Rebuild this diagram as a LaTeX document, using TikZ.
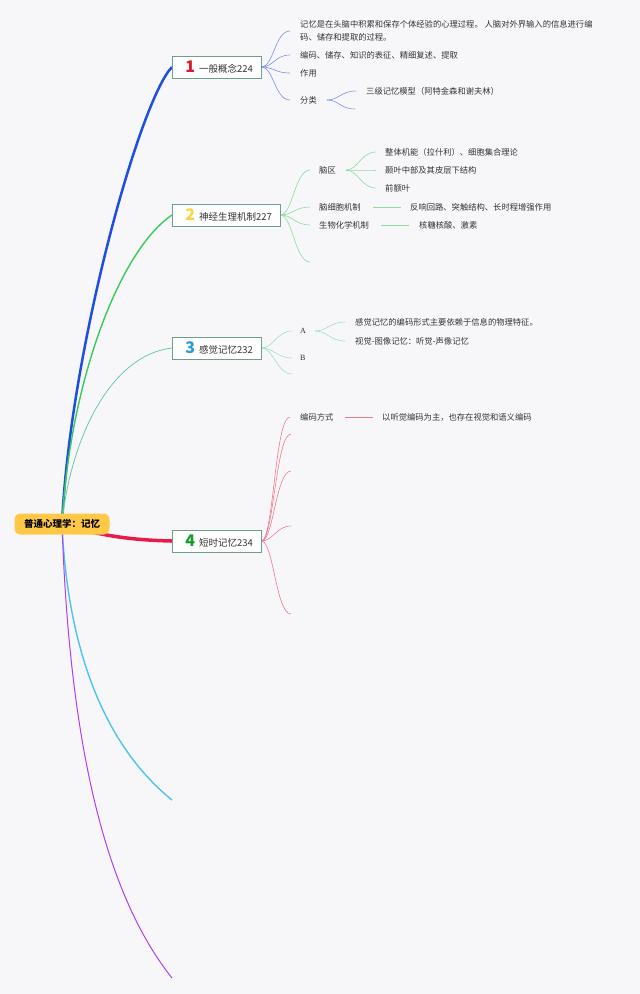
\documentclass[tikz,border=0pt]{standalone}
\usepackage{fontspec}
\setmainfont{Noto Sans CJK SC}
\newfontfamily\serifA{Liberation Serif}
\definecolor{bgc}{HTML}{F7F7F9}
\definecolor{textc}{HTML}{333333}
\definecolor{boxc}{HTML}{6E9E8C}
\definecolor{rootc}{HTML}{FFC947}
\definecolor{bluem}{HTML}{1F4FE0}
\definecolor{blues}{HTML}{7E8FEA}
\definecolor{greenm}{HTML}{3CC85A}
\definecolor{greens}{HTML}{8EDC9E}
\definecolor{tealm}{HTML}{6CC9A6}
\definecolor{teals}{HTML}{9FE0C8}
\definecolor{redm}{HTML}{E8194B}
\definecolor{reds}{HTML}{F07A90}
\definecolor{cyanm}{HTML}{4CC4F0}
\definecolor{purplem}{HTML}{B03EF0}
\definecolor{n1}{HTML}{E0182D}
\definecolor{n2}{HTML}{F5D442}
\definecolor{n3}{HTML}{2A9AD8}
\definecolor{n4}{HTML}{1A9A2A}
\pgfdeclarelayer{bgfill}
\pgfdeclarelayer{links}
\pgfsetlayers{bgfill,links,main}
\tikzset{
  txt/.style={anchor=west, inner sep=0pt, text=textc, font=\fontsize{8.3}{13}\selectfont},
  topic/.style={anchor=west, draw=boxc, line width=0.9pt, fill=white, inner xsep=8pt, inner ysep=0pt, minimum height=22pt, text=textc, font=\fontsize{9.5}{10}\selectfont},
  rootbox/.style={fill=rootc, rounded corners=6pt, minimum width=95pt, minimum height=21pt, inner sep=0pt, text=black, font=\fontsize{9.5}{10}\selectfont\bfseries},
  subline/.style={line width=0.6pt},
}
\newcommand\numb[2]{\hspace{5pt}{\color{#1}\fontsize{16}{16}\selectfont\bfseries #2}\hspace{4pt}}
\newcommand\brc[3]{\draw[subline,#1] (#2) .. controls +(12,0) and +(-15,0) .. (#3);}
\begin{document}
\begin{tikzpicture}[x=1pt,y=-1pt]
\begin{pgfonlayer}{bgfill}
\fill[bgc] (0,0) rectangle (640,994);
\end{pgfonlayer}
\useasboundingbox (0,0) rectangle (640,994);

% root and topics
\node[rootbox] (root) at (62,524) {普通心理学：记忆};
\node[topic] (t1) at (172,67) {\numb{n1}{1}一般概念224};
\node[topic] (t2) at (172,215) {\numb{n2}{2}神经生理机制227};
\node[topic] (t3) at (172,348) {\numb{n3}{3}感觉记忆232};
\node[topic] (t4) at (172,541) {\numb{n4}{4}短时记忆234};
\coordinate (t5) at (172,800);
\coordinate (t6) at (172,978);

% branch 1 items
\node[txt, align=left] (a1) at (300,31) {记忆是在头脑中积累和保存个体经验的心理过程。 人脑对外界输入的信息进行编\\码、储存和提取的过程。};
\node[txt] (a2) at (300,55) {编码、储存、知识的表征、精细复述、提取};
\node[txt] (a3) at (300,73) {作用};
\node[txt] (a4) at (300,100) {分类};
\node[txt] (a41) at (366,91) {三级记忆模型（阿特金森和谢夫林）};
\coordinate (a42) at (355,109);

% branch 2 items
\node[txt] (b1) at (319,170) {脑区};
\node[txt] (b11) at (385,152) {整体机能（拉什利）、细胞集合理论};
\node[txt] (b12) at (385,170) {颞叶中部及其皮层下结构};
\node[txt] (b13) at (385,188) {前额叶};
\node[txt] (b2) at (319,207) {脑细胞机制};
\node[txt] (b21) at (410,207) {反响回路、突触结构、长时程增强作用};
\node[txt] (b3) at (319,225) {生物化学机制};
\node[txt] (b31) at (419,225) {核糖核酸、激素};
\coordinate (b4) at (310,262);

% branch 3 items
\node[txt, font=\serifA\fontsize{8}{10}\selectfont] (c1) at (300,331) {A};
\node[txt] (c11) at (355,322) {感觉记忆的编码形式主要依赖于信息的物理特征。};
\node[txt] (c12) at (355,341) {视觉-图像记忆：听觉-声像记忆};
\node[txt, font=\serifA\fontsize{8}{10}\selectfont] (c2) at (300,358) {B};
\coordinate (c3) at (292,374);

% branch 4 items
\node[txt] (d1) at (300,417) {编码方式};
\node[txt] (d11) at (382,417) {以听觉编码为主，也存在视觉和语义编码};
\coordinate (d2) at (291,434);
\coordinate (d3) at (291,471);
\coordinate (d4) at (291,526);
\coordinate (d5) at (291,614);

\begin{pgfonlayer}{links}
% main connectors
\draw[bluem, line width=2.5pt] (root.center) .. controls (70,350) and (140,100) .. (t1.west);
\draw[greenm, line width=1.4pt] (root.center) .. controls (70,380) and (120,250) .. (t2.west);
\draw[tealm, line width=0.8pt] (root.center) .. controls (70,440) and (110,355) .. (t3.west);
\draw[redm, line width=3.5pt] (root.center) .. controls (95,534) and (125,540) .. (t4.west);
\draw[cyanm, line width=1.4pt] (root.center) .. controls (68,660) and (110,750) .. (t5);
\draw[purplem, line width=1pt] (root.center) .. controls (70,760) and (110,900) .. (t6);

% branch 1
\brc{blues}{t1.east}{[xshift=-10pt]a1.west}
\brc{blues}{t1.east}{[xshift=-10pt]a2.west}
\brc{blues}{t1.east}{[xshift=-10pt]a3.west}
\brc{blues}{t1.east}{[xshift=-10pt]a4.west}
\brc{blues}{[xshift=10pt]a4.east}{[xshift=-10pt]a41.west}
\brc{blues}{[xshift=10pt]a4.east}{a42}

% branch 2
\brc{greens}{t2.east}{[xshift=-9pt]b1.west}
\brc{greens}{t2.east}{[xshift=-9pt]b2.west}
\brc{greens}{t2.east}{[xshift=-9pt]b3.west}
\brc{greens}{t2.east}{b4}
\brc{greens}{[xshift=10pt]b1.east}{[xshift=-9pt]b11.west}
\brc{greens}{[xshift=10pt]b1.east}{[xshift=-9pt]b12.west}
\brc{greens}{[xshift=10pt]b1.east}{[xshift=-9pt]b13.west}
\draw[subline, greens] ([xshift=12pt]b2.east) -- ([xshift=-9pt]b21.west);
\draw[subline, greens] ([xshift=12pt]b3.east) -- ([xshift=-10pt]b31.west);

% branch 3
\brc{teals}{t3.east}{[xshift=-8pt]c1.west}
\brc{teals}{t3.east}{[xshift=-8pt]c2.west}
\brc{teals}{t3.east}{c3}
\brc{teals}{[xshift=9pt]c1.east}{[xshift=-10pt]c11.west}
\brc{teals}{[xshift=9pt]c1.east}{[xshift=-10pt]c12.west}

% branch 4
\brc{reds}{t4.east}{[xshift=-10pt]d1.west}
\brc{reds}{t4.east}{d2}
\brc{reds}{t4.east}{d3}
\brc{reds}{t4.east}{d4}
\brc{reds}{t4.east}{d5}
\draw[subline, reds] ([xshift=11pt]d1.east) -- ([xshift=-9pt]d11.west);
\end{pgfonlayer}
\end{tikzpicture}
\end{document}
